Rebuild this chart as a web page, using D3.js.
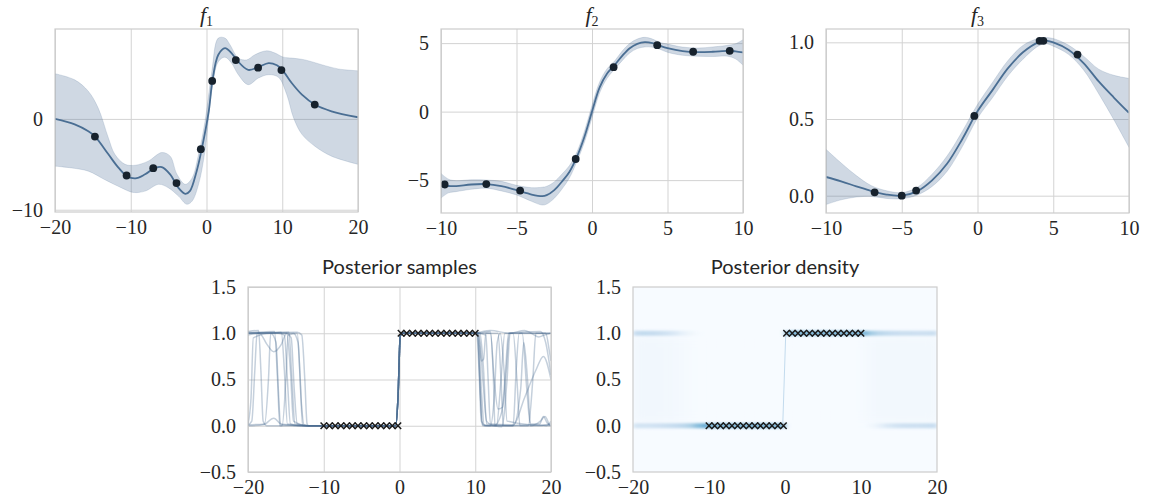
<!DOCTYPE html>
<html>
<head>
<meta charset="utf-8">
<script src="https://cdn.jsdelivr.net/npm/d3@7"></script>
<style>
  body { margin: 0; background: #fff; }
  svg { display: block; }
  .tick text { font-family: "Liberation Serif", serif; font-size: 20px; fill: #262626; }
</style>
</head>
<body>
<svg width="1150" height="501"></svg>
<script>
// ---- f1 ----
const f1MeanX = [-20, -17.4, -15.6, -14.7, -12.95, -11.6, -10.5, -9.4, -8.1, -6.8, -5.9, -4.8, -3.7, -2.8, -2.2, -1.3, -0.6, 0.3, 0.77, 1.56, 2.44, 3.3, 3.98, 5.5, 6.85, 8.2, 9.3, 10.0, 11.25, 12.6, 14.3, 16.5, 20];
const f1Mean  = [0, -0.6, -1.36, -1.94, -3.9, -5.4, -6.3, -6.55, -6.1, -5.4, -5.3, -6.1, -7.6, -8.25, -7.95, -5.75, -3.2, 0.85, 4.14, 7.07, 7.8, 7.25, 6.5, 5.4, 5.7, 6.15, 5.9, 5.4, 3.95, 2.67, 1.58, 0.84, 0.18];
const f1UpperX = [-20, -17.4, -15.6, -14.3, -12.95, -12.1, -10.75, -9.4, -7.7, -5.9, -4.8, -3.9, -2.8, -1.9, -1.05, -0.2, 0.7, 1.56, 2.44, 3.1, 4.2, 5.3, 6.4, 7.95, 9.05, 10.15, 11.25, 13.0, 15.2, 17.4, 20];
const f1Upper  = [4.98, 4.3, 3.04, 1.2, -2.1, -3.9, -5.0, -5.1, -4.65, -3.7, -4.1, -6.1, -7.2, -6.5, -3.9, -0.3, 5.2, 8.9, 8.9, 8.17, 6.7, 6.5, 7.07, 7.5, 7.25, 6.8, 6.7, 6.5, 5.97, 5.5, 5.3];
const f1LowerX = [-20, -17.8, -15.6, -13.4, -11.2, -9.65, -8.1, -6.3, -5.0, -3.7, -2.6, -1.9, -1.05, -0.2, 0.68, 1.56, 2.44, 3.3, 4.2, 5.5, 6.85, 8.2, 9.5, 10.6, 11.5, 12.6, 14.3, 16.5, 20];
const f1Lower  = [-5.2, -5.4, -5.75, -6.7, -7.6, -8.1, -7.95, -7.2, -7.6, -8.5, -9.4, -9.05, -7.2, -3.5, 3.0, 6.3, 6.8, 6.15, 4.87, 3.77, 4.5, 4.87, 4.58, 2.67, 0.1, -1.7, -3.0, -4.1, -5.0];
const f1DotX = [-14.73, -10.55, -7.03, -3.96, -0.75, 0.75, 3.87, 6.81, 9.89, 14.29];
const f1DotY = [-1.94, -6.23, -5.42, -7.07, -3.33, 4.18, 6.48, 5.64, 5.38, 1.58];

// ---- f2 ----
const f2X    = [-10, -9.5, -9, -8, -7, -6, -5, -4, -3.3, -3, -2.5, -2, -1.5, -1, -0.5, 0, 0.5, 1, 1.5, 2, 2.5, 3, 3.5, 4, 4.5, 5, 6, 7, 8, 9, 9.5, 10];
const f2Mean = [-5.41, -5.43, -5.44, -5.32, -5.29, -5.44, -5.73, -6.05, -6.17, -6.1, -5.73, -5.12, -4.4, -3.3, -1.83, 0, 1.75, 2.78, 3.4, 4.07, 4.63, 4.95, 5.07, 5.0, 4.8, 4.63, 4.41, 4.34, 4.37, 4.44, 4.4, 4.32];
const f2Half = [0.9, 0.5, 0.4, 0.35, 0.3, 0.35, 0.35, 0.5, 0.65, 0.65, 0.6, 0.55, 0.45, 0.35, 0.4, 0.45, 0.4, 0.35, 0.3, 0.35, 0.35, 0.35, 0.35, 0.3, 0.25, 0.3, 0.3, 0.3, 0.35, 0.4, 0.55, 0.93];
const f2DotX = [-9.76, -7.0, -4.76, -1.08, 1.43, 4.32, 6.7, 9.12];
const f2DotY = [-5.32, -5.29, -5.76, -3.46, 3.24, 4.85, 4.37, 4.44];

// ---- f3 ----
const f3X    = [-10, -9, -8, -7, -6, -5, -4, -3, -2, -1, 0, 1, 2, 3, 4, 4.5, 5, 6, 7, 8, 9, 10];
const f3Mean = [0.122, 0.093, 0.061, 0.03, 0.007, 0.0, 0.028, 0.1, 0.21, 0.37, 0.55, 0.69, 0.83, 0.935, 1.0, 1.011, 1.0, 0.952, 0.865, 0.745, 0.64, 0.54];
const f3Half = [0.18, 0.12, 0.07, 0.035, 0.025, 0.02, 0.025, 0.04, 0.05, 0.05, 0.045, 0.05, 0.05, 0.045, 0.025, 0.02, 0.025, 0.03, 0.045, 0.08, 0.145, 0.225];
const f3DotX = [-6.79, -5.0, -4.05, -0.21, 4.1, 4.35, 6.6];
const f3DotY = [0.022, 0.0, 0.033, 0.52, 1.01, 1.01, 0.92];

// ---- ticks & titles ----
const f1XTicks = [-20, -10, 0, 10, 20];
const f1YTicks = [-10, 0];
const f23XTicks = [-10, -5, 0, 5, 10];
const f2YTicks = [-5, 0, 5];
const f3YTicks = [0, 0.5, 1];
const postXTicks = [-20, -10, 0, 10, 20];
const postYTicks = [-0.5, 0, 0.5, 1, 1.5];
const topSubs = ['1', '2', '3'];
const bottomTitles = ['Posterior samples', 'Posterior density'];

// ---- observations (crosses) ----
const obsLowX  = [-10, -9.25, -8.49, -7.74, -6.98, -6.23, -5.48, -4.72, -3.97, -3.22, -2.46, -1.71, -0.95, -0.2];
const obsHighX = [0.2, 0.95, 1.71, 2.46, 3.22, 3.97, 4.72, 5.48, 6.23, 6.98, 7.74, 8.49, 9.25, 10];

// ---- posterior samples: left part, shared middle, right part ----
const sampleLeft = [
  [[-20, 1.0], [-16, 1.0], [-15.2, 0.98], [-14.8, 0.5], [-14.4, 0.02], [-13, 0]],
  [[-20, 1.01], [-15, 1.0], [-14.3, 0.95], [-13.9, 0.4], [-13.5, 0.02]],
  [[-20, 1.0], [-14, 1.0], [-13.4, 0.9], [-13, 0.3], [-12.6, 0.01]],
  [[-20, 0.98], [-18.5, 1.0], [-17.5, 0.88], [-16.6, 0.8], [-15.6, 0.88], [-14.9, 1.0], [-14.4, 0.6], [-14.0, 0.05]],
  [[-20, 0.01], [-19.5, 0.05], [-19.1, 0.6], [-18.8, 1.0], [-15.6, 1.01], [-15.2, 0.6], [-14.8, 0.02]],
  [[-20, 0.0], [-18, 0.01], [-16.6, 0.08], [-15.5, 0.01]],
  [[-20, 1.02], [-18.6, 1.03], [-18.3, 0.6], [-18.0, 0.05], [-17.5, 0.0]],
  [[-20, 0.02], [-19.6, 0.3], [-19.3, 0.95], [-17, 1.0], [-16.3, 0.9], [-16.0, 0.4], [-15.7, 0.02]],
  [[-20, 1.0], [-16.5, 1.02], [-16.1, 0.5], [-15.8, 0.0], [-15.5, 0.0], [-15.0, 0.5], [-14.7, 0.98], [-13.5, 1.0], [-13.1, 0.5], [-12.8, 0.0]],
  [[-20, 0.01], [-17.8, 0.02], [-17.3, 0.5], [-17, 1.0], [-14.6, 1.01], [-14.2, 0.5], [-13.8, 0.02]],
  [[-20, 1.0], [-13.5, 1.01], [-12.9, 0.98], [-12.5, 0.5], [-12.2, 0.02]]
];
const sampleMid = [[-12, 0], [-10, 0], [-5, 0], [-0.5, 0.0], [-0.2, 0.3], [0.1, 0.97], [0.4, 1.0], [5, 1.0], [10, 1.0]];
const sampleRight = [
  [[10.2, 1.0], [10.5, 0.6], [10.8, 0.05], [11.5, 0], [14, 0.0], [17, 0.01], [20, 0.0]],
  [[10.4, 1.0], [10.8, 0.7], [11.1, 0.72], [11.4, 1.0], [12.0, 1.0], [12.5, 0.5], [13.0, 0.18], [13.6, 0.2], [14.1, 0.6], [14.5, 1.0], [20, 1.0]],
  [[10.3, 1.0], [10.7, 0.3], [11.0, 0.0], [15, 0.0], [16.0, 0.4], [16.4, 0.9], [16.9, 0.5], [17.3, 0.02], [18.5, 0.02], [19, 0.1], [19.5, 0.03], [20, 0]],
  [[10.5, 1.0], [11.0, 0.5], [11.5, 0.05], [12.5, 0.0], [13.5, 0.15], [14, 0.6], [14.4, 1.0], [18.6, 1.02], [19.3, 0.9], [20, 0.55]],
  [[10.3, 1.0], [10.6, 0.5], [10.9, 0.01], [12.8, 0.0], [13.4, 0.5], [13.9, 1.0], [15, 1.0], [15.5, 0.5], [15.9, 0.0], [18, 0.0], [20, 0.02]],
  [[10.6, 1.01], [11.1, 0.6], [11.5, 0.02], [16, 0.0], [17, 0.0], [17.6, 0.5], [18, 1.0], [20, 1.0]],
  [[10.2, 1.0], [11, 1.02], [12, 1.03], [14.5, 1.0], [16.5, 1.03], [17.4, 1.0], [18.4, 0.96], [19.1, 0.98], [20, 1.0]],
  [[10.4, 1.0], [10.8, 0.4], [11.2, 0.0], [12, 0.0], [12.5, 0.3], [12.9, 0.9], [13.3, 1.0], [13.8, 0.6], [14.2, 0.05], [19.4, 0.0], [20, 0.05]],
  [[10.3, 1.0], [11.4, 0.98], [11.7, 0.5], [12.0, 0.02], [15, 0.01], [16.5, 0.3], [18, 0.6], [19, 0.75], [20, 0.5]],
  [[10.5, 1.0], [12.0, 1.02], [12.4, 0.5], [12.6, 0.0], [13.5, -0.01], [14.2, 0.5], [14.6, 1.0], [16.2, 1.0], [16.8, 0.4], [17.3, 0.0], [18.6, 0.05], [19.2, 0.1], [19.8, 0.0]],
  [[10.2, 1.0], [13, 1.0], [13.4, 0.5], [13.7, 0.0], [15, 0.0], [15.4, 0.6], [15.8, 1.0], [19.3, 1.0], [19.8, 0.8], [20, 0.7]]
];

// ---- posterior density: 1-unit bins in x, intensity along y=1, y=0 and the haze between ----
const densX = [-19.5, -18.5, -17.5, -16.5, -15.5, -14.5, -13.5, -12.5, -11.5, -10.5,
               -9.5, -8.5, -7.5, -6.5, -5.5, -4.5, -3.5, -2.5, -1.5, -0.5,
               0.5, 1.5, 2.5, 3.5, 4.5, 5.5, 6.5, 7.5, 8.5, 9.5,
               10.5, 11.5, 12.5, 13.5, 14.5, 15.5, 16.5, 17.5, 18.5, 19.5];
const densRow1 = [0.24, 0.25, 0.24, 0.22, 0.19, 0.14, 0.08, 0.04, 0.01, 0,
                  0, 0, 0, 0, 0, 0, 0, 0, 0, 0,
                  0.45, 0.45, 0.45, 0.45, 0.45, 0.45, 0.45, 0.45, 0.45, 0.45,
                  0.45, 0.34, 0.28, 0.25, 0.23, 0.22, 0.22, 0.21, 0.21, 0.22];
const densRow0 = [0.18, 0.18, 0.19, 0.2, 0.22, 0.24, 0.27, 0.32, 0.42, 0.5,
                  0.45, 0.45, 0.45, 0.45, 0.45, 0.45, 0.45, 0.45, 0.45, 0.45,
                  0, 0, 0, 0, 0, 0, 0, 0, 0, 0,
                  0, 0.03, 0.08, 0.14, 0.18, 0.2, 0.21, 0.21, 0.22, 0.23];
const densHaze = [0.03, 0.03, 0.03, 0.03, 0.025, 0.02, 0.015, 0.008, 0, 0,
                  0, 0, 0, 0, 0, 0, 0, 0, 0, 0,
                  0, 0, 0, 0, 0, 0, 0, 0, 0, 0,
                  0.008, 0.02, 0.025, 0.025, 0.025, 0.025, 0.025, 0.025, 0.025, 0.025];
const densJump = [[-0.3, 0], [0.1, 1]];

let svg;
const lineColor = '#4a6e93';
const gridColor = '#d3d3d3';

document.addEventListener('DOMContentLoaded', function () {
  svg = d3.select('svg');
  const defs = svg.append('defs');
  defs.append('filter').attr('id', 'soft')
      .attr('x', '-10%').attr('y', '-200%').attr('width', '120%').attr('height', '500%')
      .append('feGaussianBlur').attr('stdDeviation', '2.5 1.2');
  defs.append('filter').attr('id', 'hazeblur')
      .attr('x', '-10%').attr('y', '-10%').attr('width', '120%').attr('height', '120%')
      .append('feGaussianBlur').attr('stdDeviation', '6 6');

  drawGP({ x: 55, y: 29, w: 303, h: 183 }, [-20, 20], [-10.25, 9.9], f1XTicks, f1YTicks, d3.format('d'), 0,
         f1MeanX.map((d, i) => [d, f1Mean[i]]),
         f1UpperX.map((d, i) => [d, f1Upper[i]]),
         f1LowerX.map((d, i) => [d, f1Lower[i]]),
         f1DotX.map((d, i) => [d, f1DotY[i]]));
  drawGP({ x: 441, y: 29, w: 302, h: 184 }, [-10, 10], [-7.4, 6.03], f23XTicks, f2YTicks, d3.format('d'), 1,
         f2X.map((d, i) => [d, f2Mean[i]]),
         f2X.map((d, i) => [d, f2Mean[i] + f2Half[i]]),
         f2X.map((d, i) => [d, f2Mean[i] - f2Half[i]]),
         f2DotX.map((d, i) => [d, f2DotY[i]]));
  drawGP({ x: 826, y: 29, w: 303, h: 184 }, [-10, 10], [-0.113, 1.087], f23XTicks, f3YTicks, d3.format('.1f'), 2,
         f3X.map((d, i) => [d, f3Mean[i]]),
         f3X.map((d, i) => [d, f3Mean[i] + f3Half[i]]),
         f3X.map((d, i) => [d, f3Mean[i] - f3Half[i]]),
         f3DotX.map((d, i) => [d, f3DotY[i]]));

  drawSamples({ x: 248, y: 287, w: 303, h: 185 });
  drawDensity({ x: 633, y: 287, w: 304, h: 185 });
});

// axes: grid + labels + light spines
function makePanel(box, xDom, yDom, xTicks, yTicks, yFmt, withGrid, id) {
  const g = svg.append('g').attr('transform', `translate(${box.x},${box.y})`);
  const x = d3.scaleLinear().domain(xDom).range([0, box.w]);
  const y = d3.scaleLinear().domain(yDom).range([box.h, 0]);
  if (withGrid) {
    const gx = g.append('g').attr('transform', `translate(0,${box.h})`)
      .call(d3.axisBottom(x).tickValues(xTicks).tickSize(-box.h).tickFormat(''));
    const gy = g.append('g')
      .call(d3.axisLeft(y).tickValues(yTicks).tickSize(-box.w).tickFormat(''));
    [gx, gy].forEach(a => {
      a.select('.domain').remove();
      a.selectAll('line').attr('stroke', gridColor).attr('stroke-width', 1);
    });
  }
  const lx = g.append('g').attr('transform', `translate(0,${box.h})`)
    .call(d3.axisBottom(x).tickValues(xTicks).tickSize(0).tickPadding(8).tickFormat(d3.format('d')));
  const ly = g.append('g')
    .call(d3.axisLeft(y).tickValues(yTicks).tickSize(0).tickPadding(12).tickFormat(yFmt));
  [lx, ly].forEach(a => a.select('.domain').remove());
  g.append('clipPath').attr('id', 'clip' + id)
    .append('rect').attr('width', box.w).attr('height', box.h);
  const plot = g.append('g').attr('clip-path', `url(#clip${id})`);
  return { g, plot, x, y };
}

function spine(g, box) {
  g.append('rect').attr('width', box.w).attr('height', box.h)
    .attr('fill', 'none').attr('stroke', '#cccccc').attr('stroke-width', 1.2);
}

function drawGP(box, xDom, yDom, xTicks, yTicks, yFmt, k, mean, upper, lower, dots) {
  const p = makePanel(box, xDom, yDom, xTicks, yTicks, yFmt, true, 'gp' + k);
  const line = d3.line().x(d => p.x(d[0])).y(d => p.y(d[1])).curve(d3.curveCatmullRom.alpha(0.5));
  const bandPath = line(upper) + line(lower.slice().reverse()).replace(/^M/, 'L') + 'Z';
  p.plot.append('path').attr('d', bandPath)
    .attr('fill', '#4c7096').attr('fill-opacity', 0.27)
    .attr('stroke', '#4c7096').attr('stroke-opacity', 0.18).attr('stroke-width', 1);
  p.plot.append('path').attr('d', line(mean))
    .attr('fill', 'none').attr('stroke', lineColor).attr('stroke-width', 1.8);
  p.plot.selectAll('circle').data(dots).enter().append('circle')
    .attr('cx', d => p.x(d[0])).attr('cy', d => p.y(d[1])).attr('r', 3.9)
    .attr('fill', '#17222d');
  spine(p.g, box);
  const t = p.g.append('text').attr('x', box.w / 2).attr('y', -7)
    .attr('text-anchor', 'middle').attr('fill', '#262626')
    .style('font-family', '"Liberation Serif", serif').style('font-size', '22px');
  t.append('tspan').style('font-style', 'italic').text('f');
  t.append('tspan').attr('dy', 4).style('font-size', '14px').text(topSubs[k]);
}

function crosses(p, g) {
  const pts = obsLowX.map(d => [d, 0]).concat(obsHighX.map(d => [d, 1]));
  g.selectAll('path.obs').data(pts).enter().append('path').attr('class', 'obs')
    .attr('transform', d => `translate(${p.x(d[0])},${p.y(d[1])})`)
    .attr('d', 'M-3.2,-3.2L3.2,3.2M-3.2,3.2L3.2,-3.2')
    .attr('stroke', '#1a1a1a').attr('stroke-width', 1.5).attr('fill', 'none');
}

function bottomTitle(g, box, text) {
  g.append('text').attr('x', box.w / 2).attr('y', -13)
    .attr('text-anchor', 'middle').attr('fill', '#262626')
    .style('font-family', 'Lato, sans-serif').style('font-size', '20px')
    .text(text);
}

function drawSamples(box) {
  const p = makePanel(box, [-20, 20], [-0.5, 1.5], postXTicks, postYTicks, d3.format('.1f'), true, 'samp');
  const line = d3.line().x(d => p.x(d[0])).y(d => p.y(d[1])).curve(d3.curveMonotoneX);
  const samples = sampleLeft.map((l, i) => l.concat(sampleMid, sampleRight[i]));
  p.plot.selectAll('path.sample').data(samples).enter().append('path').attr('class', 'sample')
    .attr('d', line).attr('fill', 'none')
    .attr('stroke', lineColor).attr('stroke-opacity', 0.32).attr('stroke-width', 1.5);
  crosses(p, p.g);
  spine(p.g, box);
  bottomTitle(p.g, box, bottomTitles[0]);
}

function drawDensity(box) {
  const p = makePanel(box, [-20, 20], [-0.5, 1.5], postXTicks, postYTicks, d3.format('.1f'), false, 'dens');
  p.plot.append('rect').attr('width', box.w).attr('height', box.h).attr('fill', d3.interpolateBlues(0));
  const bw = p.x(1) - p.x(0);
  p.plot.append('g').attr('filter', 'url(#hazeblur)')
    .selectAll('rect.haze').data(densX).enter().append('rect').attr('class', 'haze')
    .attr('x', d => p.x(d - 0.5)).attr('width', bw + 0.5)
    .attr('y', p.y(0.97)).attr('height', p.y(0.03) - p.y(0.97))
    .attr('fill', (d, i) => d3.interpolateBlues(densHaze[i]));
  const soft = p.plot.append('g').attr('filter', 'url(#soft)');
  [[1, densRow1], [0, densRow0]].forEach(([lev, vals]) => {
    soft.selectAll('rect.r' + lev).data(densX).enter().append('rect').attr('class', 'r' + lev)
      .attr('x', d => p.x(d - 0.5)).attr('width', bw + 0.5)
      .attr('y', p.y(lev) - 2.5).attr('height', 5)
      .attr('fill', (d, i) => d3.interpolateBlues(vals[i]))
      .attr('fill-opacity', (d, i) => vals[i] > 0 ? 1 : 0);
  });
  p.plot.append('path')
    .attr('d', d3.line().x(d => p.x(d[0])).y(d => p.y(d[1]))(densJump))
    .attr('stroke', d3.interpolateBlues(0.25)).attr('stroke-width', 1).attr('fill', 'none');
  crosses(p, p.g);
  spine(p.g, box);
  bottomTitle(p.g, box, bottomTitles[1]);
}
</script>
</body>
</html>
